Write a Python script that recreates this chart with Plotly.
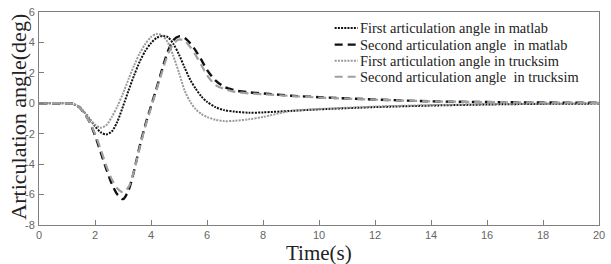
import plotly.graph_objects as go

time = [0, 1.0, 1.2, 1.4, 1.6, 1.8, 2.0, 2.2, 2.4, 2.6, 2.8, 3.0, 3.2, 3.4, 3.6, 3.8,
        4.0, 4.2, 4.4, 4.6, 4.8, 5.0, 5.2, 5.4, 5.6, 5.8, 6.0, 6.3, 6.6, 7.0, 7.5,
        8, 9, 10, 12, 14, 16, 18, 20]

first_matlab = [0, 0, -0.03, -0.2, -0.55, -1.0, -1.5, -1.9, -2.05, -1.85, -1.2, -0.2,
                0.85, 1.85, 2.75, 3.45, 3.95, 4.3, 4.43, 4.35, 3.9, 3.2, 2.35, 1.55,
                0.95, 0.45, 0.1, -0.25, -0.45, -0.55, -0.62, -0.6, -0.5, -0.4, -0.25,
                -0.15, -0.08, -0.04, -0.02]

second_matlab = [0, 0, -0.03, -0.2, -0.6, -1.2, -2.1, -3.2, -4.3, -5.3, -6.0, -6.3,
                 -5.7, -4.4, -2.8, -1.4, -0.2, 1.0, 2.25, 3.4, 4.15, 4.4, 4.3, 3.95,
                 3.45, 2.85, 2.2, 1.5, 1.1, 0.85, 0.72, 0.65, 0.5, 0.4, 0.25, 0.13,
                 0.08, 0.05, 0.03]

first_trucksim = [0, 0, -0.03, -0.2, -0.55, -1.0, -1.4, -1.6, -1.45, -0.9, -0.2, 0.65,
                  1.6, 2.5, 3.3, 3.9, 4.35, 4.56, 4.45, 4.0, 3.1, 2.0, 0.85, 0.1, -0.4,
                  -0.7, -0.9, -1.08, -1.17, -1.15, -1.05, -0.9, -0.5, -0.38, -0.22,
                  -0.12, -0.06, -0.03, -0.01]

second_trucksim = [0, 0, -0.03, -0.2, -0.6, -1.2, -2.0, -3.0, -4.1, -5.0, -5.6, -5.85,
                   -5.5, -4.4, -2.9, -1.5, -0.3, 0.9, 2.1, 3.2, 3.9, 4.2, 4.1, 3.7,
                   3.15, 2.5, 1.85, 1.2, 0.95, 0.75, 0.65, 0.6, 0.48, 0.38, 0.24, 0.13,
                   0.08, 0.05, 0.03]

names = ["First articulation angle in matlab",
         "Second articulation angle  in matlab",
         "First articulation angle in trucksim",
         "Second articulation angle  in trucksim"]

x_ticks = [0, 2, 4, 6, 8, 10, 12, 14, 16, 18, 20]
x_tick_labels = ["0", "2", "4", "6", "8", "10", "12", "14", "16", "18", "20"]
y_ticks = [-8, -6, -4, -2, 0, 2, 4, 6]
y_tick_labels = ["-8", "-6", "-4", "-2", "0", "2", "4", "6"]

series = [first_matlab, second_matlab, first_trucksim, second_trucksim]
styles = [
    dict(color="#111111", width=2, dash="2px,1.2px"),
    dict(color="#111111", width=2.4, dash="8px,5px"),
    dict(color="#9a9a9a", width=2, dash="2px,1.2px"),
    dict(color="#a0a0a0", width=2.2, dash="8px,5px"),
]

fig = go.Figure()
for name, ys, st in zip(names, series, styles):
    fig.add_trace(go.Scatter(x=time, y=ys, mode="lines", name=name, showlegend=False,
                             line=dict(shape="spline", smoothing=0.8, **st)))

# compact legend (rows closer than plotly's built-in legend allows)
legend_rows_y = [0.925, 0.847, 0.771, 0.696]
annotations = []
shapes = []
for name, st, ly in zip(names, styles, legend_rows_y):
    shapes.append(dict(type="line", xref="paper", yref="paper",
                       x0=0.528, x1=0.569, y0=ly, y1=ly,
                       line=dict(color=st["color"], width=st["width"], dash=st["dash"])))
    annotations.append(dict(text=name, xref="paper", yref="paper", x=0.570, y=ly,
                            xanchor="left", yanchor="middle", showarrow=False,
                            font=dict(family="Liberation Serif", size=14.4, color="#222222")))

annotations += [
    dict(text="Time(s)", xref="paper", yref="paper", x=0.5, y=-0.131,
         xanchor="center", yanchor="middle", showarrow=False,
         font=dict(family="Liberation Serif", size=21, color="#222222")),
    dict(text="Articulation angle(deg)", xref="paper", yref="paper",
         x=-0.037, y=0.51, xanchor="center", yanchor="middle", textangle=-90,
         showarrow=False,
         font=dict(family="Liberation Serif", size=22, color="#222222")),
]

axis_common = dict(showgrid=False, zeroline=False, showline=True, mirror=True,
                   linecolor="#808080", linewidth=1, ticks="inside", ticklen=5,
                   tickcolor="#808080", ticklabeloverflow="allow",
                   tickfont=dict(family="Arial, Liberation Sans", size=11, color="#666666"))

fig.update_layout(
    width=611, height=264,
    margin=dict(l=39, r=6, t=12, b=39),
    paper_bgcolor="white", plot_bgcolor="white",
    xaxis=dict(range=[0, 20], tickvals=x_ticks, ticktext=x_tick_labels, **axis_common),
    yaxis=dict(range=[-8, 6], tickvals=y_ticks, ticktext=y_tick_labels,
               ticklabelstandoff=1, **axis_common),
    showlegend=False,
    shapes=shapes,
    annotations=annotations,
)

fig.write_html("out.html", config={"displayModeBar": False},
               post_script="document.body.style.margin='0';document.body.style.overflow='hidden';")
